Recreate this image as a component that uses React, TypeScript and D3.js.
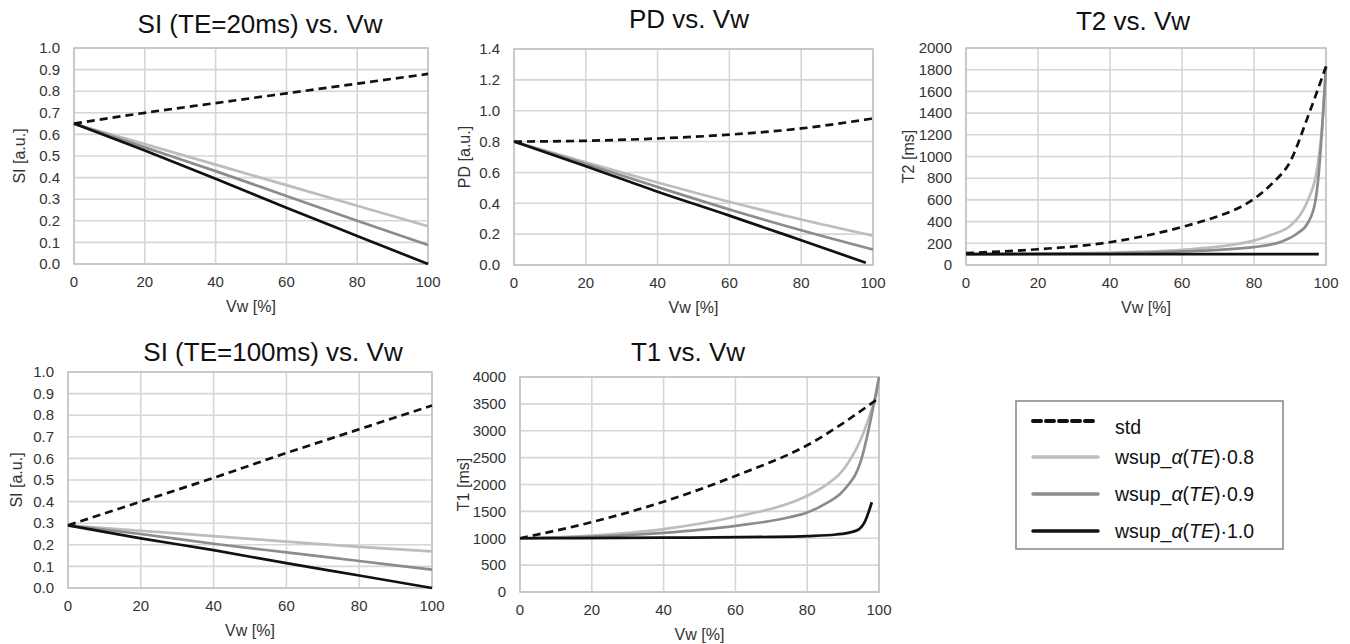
import React from 'react';
import * as d3 from 'd3';

type Pt = [number, number];

// SI (TE=20ms)
const si20Std: Pt[] = [[0, 0.65], [20, 0.70], [40, 0.745], [60, 0.79], [80, 0.835], [100, 0.88]];
const si20W08: Pt[] = [[0, 0.65], [20, 0.555], [40, 0.46], [60, 0.365], [80, 0.27], [100, 0.175]];
const si20W09: Pt[] = [[0, 0.65], [20, 0.54], [40, 0.43], [60, 0.315], [80, 0.2], [100, 0.088]];
const si20W10: Pt[] = [[0, 0.65], [20, 0.525], [40, 0.395], [60, 0.26], [80, 0.13], [100, 0.0]];

// PD
const pdStd: Pt[] = [[0, 0.8], [20, 0.805], [40, 0.82], [60, 0.845], [80, 0.885], [100, 0.95]];
const pdW08: Pt[] = [[0, 0.8], [20, 0.665], [40, 0.535], [60, 0.41], [80, 0.295], [100, 0.19]];
const pdW09: Pt[] = [[0, 0.8], [20, 0.655], [40, 0.505], [60, 0.36], [80, 0.225], [100, 0.1]];
const pdW10: Pt[] = [[0, 0.8], [20, 0.64], [40, 0.475], [60, 0.32], [80, 0.16], [98, 0.015]];

// T2
const t2Std: Pt[] = [[0, 110], [20, 145], [40, 210], [60, 350], [70, 450], [76, 530], [80, 610], [85, 750], [90, 950], [95, 1370], [100, 1830]];
const t2W08: Pt[] = [[0, 100], [40, 115], [60, 140], [80, 225], [85, 280], [90, 360], [93, 470], [95, 600], [97.5, 880], [99, 1300], [100, 1830]];
const t2W09: Pt[] = [[0, 100], [40, 108], [60, 125], [80, 165], [88, 220], [92, 290], [95, 390], [97, 580], [98, 850], [99, 1300], [100, 1830]];
const t2W10: Pt[] = [[0, 100], [50, 100], [98, 100]];

// SI (TE=100ms)
const si100Std: Pt[] = [[0, 0.29], [20, 0.40], [40, 0.51], [60, 0.625], [80, 0.735], [100, 0.845]];
const si100W08: Pt[] = [[0, 0.29], [20, 0.265], [40, 0.24], [60, 0.215], [80, 0.19], [100, 0.17]];
const si100W09: Pt[] = [[0, 0.29], [20, 0.25], [40, 0.205], [60, 0.165], [80, 0.125], [100, 0.085]];
const si100W10: Pt[] = [[0, 0.29], [20, 0.23], [40, 0.175], [60, 0.115], [80, 0.058], [100, 0.0]];

// T1
const t1Std: Pt[] = [[0, 1000], [20, 1300], [40, 1680], [60, 2160], [80, 2730], [100, 3610]];
const t1W08: Pt[] = [[0, 1000], [20, 1050], [40, 1170], [60, 1400], [75, 1650], [80, 1790], [85, 1980], [90, 2270], [95, 2850], [100, 3820]];
const t1W09: Pt[] = [[0, 1000], [20, 1030], [40, 1100], [60, 1230], [75, 1390], [80, 1480], [85, 1640], [90, 1880], [95, 2450], [100, 4000]];
const t1W10: Pt[] = [[0, 1000], [40, 1010], [70, 1025], [80, 1040], [88, 1070], [92, 1110], [94.5, 1170], [96, 1300], [98, 1670]];

const seriesNames = ['std', '0.8', '0.9', '1.0'];
const seriesColors = ['#111111', '#bdbdbd', '#8c8c8c', '#111111'];
const seriesDash = ['8,5', null, null, null];

const xTicks = [0, 20, 40, 60, 80, 100];

const panels = [
  { title: 'SI (TE=20ms) vs. Vw', yLabel: 'SI [a.u.]', yMax: 1.0, yStep: 0.1, fmt: '.1f',
    data: [si20Std, si20W08, si20W09, si20W10],
    l: 74, r: 428, t: 48, b: 264, tx: 260, ty: 33, ylx: 19 },
  { title: 'PD vs. Vw', yLabel: 'PD [a.u.]', yMax: 1.4, yStep: 0.2, fmt: '.1f',
    data: [pdStd, pdW08, pdW09, pdW10],
    l: 514, r: 873, t: 49, b: 265, tx: 689, ty: 28, ylx: 464 },
  { title: 'T2 vs. Vw', yLabel: 'T2 [ms]', yMax: 2000, yStep: 200, fmt: 'd',
    data: [t2Std, t2W08, t2W09, t2W10],
    l: 966, r: 1326, t: 48, b: 265, tx: 1133, ty: 30, ylx: 908 },
  { title: 'SI (TE=100ms) vs. Vw', yLabel: 'SI [a.u.]', yMax: 1.0, yStep: 0.1, fmt: '.1f',
    data: [si100Std, si100W08, si100W09, si100W10],
    l: 68, r: 432, t: 372, b: 588, tx: 273, ty: 361, ylx: 16 },
  { title: 'T1 vs. Vw', yLabel: 'T1 [ms]', yMax: 4000, yStep: 500, fmt: 'd',
    data: [t1Std, t1W08, t1W09, t1W10],
    l: 520, r: 879, t: 377, b: 592, tx: 688, ty: 361, ylx: 463 },
];

const font = 'Liberation Sans, Arial, sans-serif';

function Panel({ p }: { p: typeof panels[number] }) {
  const x = d3.scaleLinear().domain([0, 100]).range([p.l, p.r]);
  const y = d3.scaleLinear().domain([0, p.yMax]).range([p.b, p.t]);
  const yTicks = d3.range(0, p.yMax + p.yStep / 2, p.yStep);
  const fmt = d3.format(p.fmt);
  const line = d3.line<Pt>().x(d => x(d[0])).y(d => y(d[1])).curve(d3.curveMonotoneX);
  const order = [1, 2, 3, 0];
  return (
    <g>
      <text x={p.tx} y={p.ty} textAnchor="middle" fontSize={26} fill="#111">{p.title}</text>
      {yTicks.map((v, i) => (
        <g key={'y' + i}>
          <line x1={p.l} x2={p.r} y1={y(v)} y2={y(v)} stroke="#d6d6d6" strokeWidth={1.6} />
          <text x={p.l - 14} y={y(v)} dy="0.35em" textAnchor="end" fontSize={15} fill="#333">{fmt(v)}</text>
        </g>
      ))}
      {xTicks.map((v, i) => (
        <g key={'x' + i}>
          <line x1={x(v)} x2={x(v)} y1={p.t} y2={p.b} stroke="#d6d6d6" strokeWidth={1.6} />
          <text x={x(v)} y={p.b + 23} textAnchor="middle" fontSize={15} fill="#333">{v}</text>
        </g>
      ))}
      <rect x={p.l} y={p.t} width={p.r - p.l} height={p.b - p.t} fill="none" stroke="#c4c4c4" strokeWidth={1.6} />
      <text x={(p.l + p.r) / 2} y={p.b + 48} textAnchor="middle" fontSize={16} fill="#333">Vw [%]</text>
      <text transform={`translate(${p.ylx},${(p.t + p.b) / 2}) rotate(-90)`} textAnchor="middle" dy="0.35em" fontSize={16} fill="#333">{p.yLabel}</text>
      {order.map(k => (
        <path key={k} d={line(p.data[k]) || ''} fill="none" stroke={seriesColors[k]}
          strokeWidth={2.7} strokeDasharray={seriesDash[k] || undefined} />
      ))}
    </g>
  );
}

function Legend() {
  const rowY = [421, 457, 494, 531];
  return (
    <g>
      <rect x={1016} y={401} width={267} height={148} fill="#fff" stroke="#8c8c8c" strokeWidth={1.6} />
      {seriesNames.map((name, i) => (
        <g key={name}>
          <line x1={1033} x2={1098} y1={rowY[i]} y2={rowY[i]} stroke={seriesColors[i]} strokeWidth={i === 0 ? 4 : 3.5}
            strokeDasharray={seriesDash[i] || undefined} strokeLinecap="round" />
          {i === 0 ? (
            <text x={1115} y={rowY[i] + 13} fontSize={19.5} fill="#111">std</text>
          ) : (
            <text x={1115} y={rowY[i] + 7} fontSize={19.5} fill="#111">
              wsup_<tspan fontStyle="italic">α</tspan>(<tspan fontStyle="italic">TE</tspan>)·{name}
            </text>
          )}
        </g>
      ))}
    </g>
  );
}

export default function App() {
  return (
    <svg width={1350} height={644} style={{ position: 'absolute', left: 0, top: 0, background: '#fff' }} fontFamily={font}>
      {panels.map((p, i) => <Panel key={i} p={p} />)}
      <Legend />
    </svg>
  );
}
